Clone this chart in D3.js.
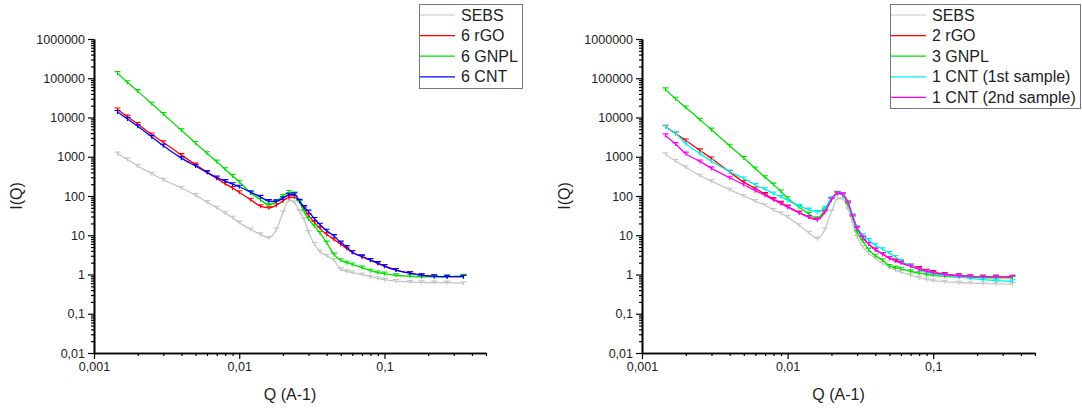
<!DOCTYPE html>
<html>
<head>
<meta charset="utf-8">
<script src="https://cdn.jsdelivr.net/npm/d3@7"></script>
<style>
  body { margin: 0; background: #fff; }
  text { font-family: "Liberation Sans", Arial, sans-serif; fill: #222; }
</style>
</head>
<body>
<div id="chart"></div>
<script>
var svgWidth = 1082;
var svgHeight = 408;

// Q grid shared by all curves (A-1)
var qValues = [0.00145, 0.0017, 0.002, 0.0025, 0.003, 0.004, 0.005, 0.006, 0.007, 0.008,
  0.009, 0.010, 0.012, 0.014, 0.016, 0.018, 0.020, 0.022, 0.024, 0.026,
  0.028, 0.030, 0.033, 0.036, 0.040, 0.045, 0.050, 0.055, 0.060, 0.070,
  0.080, 0.090, 0.10, 0.12, 0.15, 0.18, 0.22, 0.27, 0.35];

// left panel: 6 wt% fillers
var sebsLeft = [1200, 850, 580, 370, 260, 160, 105, 70, 50, 37,
  28, 21, 14, 10.5, 8.6, 14, 38, 78, 68, 40,
  25, 12, 6, 3.8, 3.0, 2.3, 1.35, 1.2, 1.12, 1.0,
  0.88, 0.8, 0.74, 0.68, 0.64, 0.63, 0.62, 0.62, 0.6];
var rgoLeft = [16000, 10500, 6800, 3700, 2350, 1100, 630, 400, 280, 205,
  160, 125, 80, 55, 50, 58, 75, 92, 94, 72,
  48, 32, 21, 15, 10.5, 7.8, 5.8, 4.6, 3.7, 2.8,
  2.3, 1.9, 1.65, 1.3, 1.08, 0.96, 0.9, 0.88, 0.88];
var gnplLeft = [135000, 79000, 47000, 22500, 12300, 4700, 2250, 1230, 750, 480,
  325, 230, 120, 80, 60, 72, 100, 126, 115, 70,
  40, 26, 17, 11.4, 6.5, 3.2, 2.3, 2.0, 1.8, 1.5,
  1.25, 1.12, 1.05, 0.95, 0.9, 0.87, 0.87, 0.88, 0.92];
var cntLeft = [13800, 9200, 6000, 3200, 1900, 920, 580, 400, 295, 240,
  200, 172, 125, 95, 74, 73, 88, 108, 110, 75,
  52, 40, 26, 18.5, 13, 9.5, 6.5, 5.0, 3.7, 2.9,
  2.35, 1.95, 1.62, 1.3, 1.08, 0.95, 0.9, 0.88, 0.88];

// right panel: lower filler contents
var sebsRight = [1150, 780, 540, 330, 240, 145, 100, 74, 58, 44,
  36, 29, 18, 11.5, 8.2, 14, 40, 85, 85, 45,
  20, 9, 5, 3.5, 2.6, 1.9, 1.5, 1.3, 1.15, 0.95,
  0.82, 0.74, 0.7, 0.65, 0.62, 0.6, 0.59, 0.58, 0.57];
var rgoRight = [5800, 3900, 2600, 1450, 900, 410, 226, 155, 112, 84,
  67, 54, 38, 29, 25, 40, 80, 115, 108, 65,
  30, 15, 8.5, 6, 4.3, 3.3, 2.6, 2.3, 2.05, 1.7,
  1.45, 1.25, 1.15, 1.02, 0.95, 0.9, 0.88, 0.87, 0.87];
var gnplRight = [52000, 30000, 18000, 8800, 4900, 1900, 930, 500, 300, 195,
  130, 88, 52, 35, 27, 45, 85, 120, 105, 60,
  28, 12, 7, 4.3, 3.0, 2.3, 1.65, 1.5, 1.4, 1.2,
  1.08, 1.0, 0.95, 0.9, 0.86, 0.84, 0.83, 0.82, 0.82];
var cnt1Right = [5650, 3980, 2170, 1200, 770, 420, 280, 190, 148, 115,
  95, 78, 56, 45, 39, 50, 88, 118, 110, 68,
  32, 16, 10, 7.5, 5.6, 4.4, 3.5, 2.8, 2.2, 1.7,
  1.35, 1.15, 1.05, 0.95, 0.87, 0.8, 0.74, 0.7, 0.67];
var cnt2Right = [3500, 2100, 1200, 760, 505, 293, 193, 137, 104, 80,
  64, 52, 37, 29, 25, 38, 80, 118, 110, 68,
  30, 15, 8.8, 6, 4.3, 3.3, 2.6, 2.2, 1.95, 1.6,
  1.35, 1.2, 1.1, 1.0, 0.93, 0.9, 0.88, 0.87, 0.86];

// axis ticks
var xMajor = [0.001, 0.01, 0.1];
var yMajor = [0.01, 0.1, 1, 10, 100, 1000, 10000, 100000, 1000000];

var leftSeries = [
  { name: "SEBS", values: sebsLeft, color: "#c4c4c4" },
  { name: "6 rGO", values: rgoLeft, color: "#ff0000" },
  { name: "6 GNPL", values: gnplLeft, color: "#00e000" },
  { name: "6 CNT", values: cntLeft, color: "#0000ff" }
];
var rightSeries = [
  { name: "SEBS", values: sebsRight, color: "#c8c8c8" },
  { name: "2 rGO", values: rgoRight, color: "#ff0000" },
  { name: "3 GNPL", values: gnplRight, color: "#00e000" },
  { name: "1 CNT (1st sample)", values: cnt1Right, color: "#00eeee" },
  { name: "1 CNT (2nd sample)", values: cnt2Right, color: "#ff00ff" }
];

var svg = d3.select("#chart")
  .append("svg")
  .attr("width", svgWidth)
  .attr("height", svgHeight);

// comma decimal labels like the original software
function fmt(d) {
  return d >= 1 ? String(d) : String(d).replace(".", ",");
}

function minorTicks(lo, hi, extra) {
  var out = [];
  for (var p = lo; p < hi; p++) {
    for (var k = 2; k <= 9; k++) out.push(k * Math.pow(10, p));
  }
  return out.concat(extra || []);
}

function drawPanel(series, x0, x1, legend) {
  var xScale = d3.scaleLog().domain([0.001, 0.5]).range([x0, x1]);
  var yScale = d3.scaleLog().domain([0.01, 1000000]).range([353, 39]);

  var g = svg.append("g");

  // minor + major y ticks
  g.append("g")
    .attr("transform", `translate(${x0},0)`)
    .call(d3.axisLeft(yScale).tickValues(minorTicks(-2, 6)).tickFormat("").tickSize(3).tickSizeOuter(0));
  g.append("g")
    .attr("transform", `translate(${x0},0)`)
    .call(d3.axisLeft(yScale).tickValues(yMajor).tickFormat(fmt).tickSize(6).tickSizeOuter(0).tickPadding(3));

  g.append("g")
    .attr("transform", "translate(0,353)")
    .call(d3.axisBottom(xScale).tickValues(minorTicks(-3, -1, [0.2, 0.3, 0.4, 0.5])).tickFormat("").tickSize(3).tickSizeOuter(0));
  g.append("g")
    .attr("transform", "translate(0,353)")
    .call(d3.axisBottom(xScale).tickValues(xMajor).tickFormat(fmt).tickSize(6).tickSizeOuter(0).tickPadding(3));

  g.selectAll(".domain").attr("stroke", "#000").attr("stroke-width", 1.6);
  g.selectAll(".tick line").attr("stroke", "#000").attr("stroke-width", 1.2);
  g.selectAll(".tick text").attr("font-size", "12.5px").attr("fill", "#222")
    .style("font-family", "'Liberation Sans', Arial, sans-serif");

  // axis titles
  g.append("text")
    .attr("x", (x0 + x1) / 2)
    .attr("y", 400)
    .attr("text-anchor", "middle")
    .attr("font-size", "16px")
    .text("Q (A-1)");
  g.append("text")
    .attr("transform", `translate(${x0 - 72},196)rotate(-90)`)
    .attr("text-anchor", "middle")
    .attr("font-size", "16px")
    .text("I(Q)");

  var line = d3.line()
    .x(d => xScale(d.q))
    .y(d => yScale(d.v))
    .curve(d3.curveMonotoneX);

  series.forEach(function(s) {
    var pts = qValues.map((q, i) => ({ q: q, v: s.values[i] }));
    var sg = g.append("g");
    sg.append("path")
      .datum(pts)
      .attr("fill", "none")
      .attr("stroke", s.color)
      .attr("stroke-width", 1.3)
      .attr("d", line);
    // small error bar caps at each point
    sg.selectAll(".cap")
      .data(pts)
      .enter()
      .append("path")
      .attr("fill", "none")
      .attr("stroke", s.color)
      .attr("stroke-width", 1.1)
      .attr("d", function(d) {
        var cx = xScale(d.q), cy = yScale(d.v);
        return `M${cx - 3},${cy - 1.5}H${cx + 3}M${cx},${cy - 1.5}V${cy + 2}`;
      });
  });

  // legend
  var lg = g.append("g");
  lg.append("rect")
    .attr("x", legend.x + 0.5)
    .attr("y", 4.5)
    .attr("width", legend.w)
    .attr("height", legend.h)
    .attr("fill", "#fff")
    .attr("stroke", "#777")
    .attr("stroke-width", 1);
  series.forEach(function(s, i) {
    var yy = 15 + i * 20.6;
    lg.append("line")
      .attr("x1", legend.x + 1)
      .attr("x2", legend.x + 36)
      .attr("y1", yy)
      .attr("y2", yy)
      .attr("stroke", s.color)
      .attr("stroke-width", 1.2);
    lg.append("text")
      .attr("x", legend.x + 42)
      .attr("y", yy + 5.5)
      .attr("font-size", "16px")
      .text(s.name);
  });
}

drawPanel(leftSeries, 94, 486, { x: 419, w: 103, h: 84 });
drawPanel(rightSeries, 642, 1035, { x: 890, w: 190, h: 104 });
</script>
</body>
</html>
